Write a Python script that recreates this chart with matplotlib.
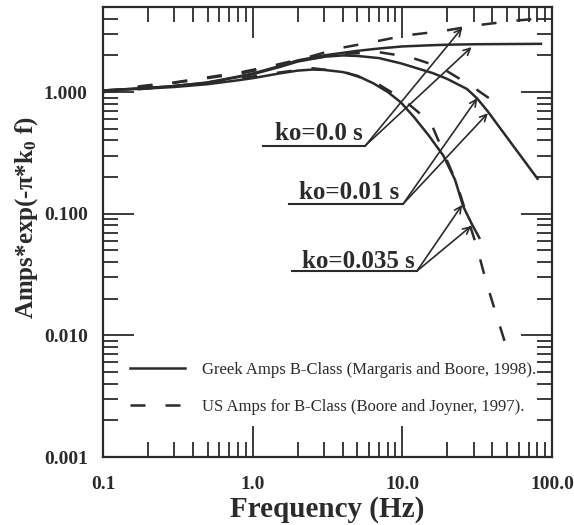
import matplotlib
matplotlib.use('Agg')
import matplotlib.pyplot as plt
from matplotlib.lines import Line2D

INK = '#2b2b2b'
plt.rcParams['font.family'] = ['Liberation Serif', 'DejaVu Serif']
plt.rcParams['mathtext.fontset'] = 'custom'
plt.rcParams['mathtext.rm'] = 'Liberation Serif:bold'
plt.rcParams['mathtext.it'] = 'Liberation Serif:bold'
plt.rcParams['mathtext.bf'] = 'Liberation Serif:bold'

# ---- data ----
# Greek amps B-class (solid)
greek_k00_f = [0.1, 0.2, 0.3, 0.5, 0.8, 1.0, 1.5, 2.0, 3.0, 4.0, 5.0, 7.0, 10, 15, 20, 30, 50, 86]
greek_k00_a = [1.03, 1.08, 1.12, 1.20, 1.34, 1.42, 1.63, 1.82, 2.00, 2.10, 2.18, 2.28, 2.37, 2.42, 2.45, 2.47, 2.48, 2.49]

greek_k01_f = [0.1, 0.2, 0.3, 0.5, 0.8, 1.0, 1.5, 2.0, 3.0, 4.0, 5.0, 7.0, 9.8, 16, 20, 27, 31.5, 37, 81]
greek_k01_a = [1.03, 1.08, 1.12, 1.19, 1.33, 1.40, 1.60, 1.78, 1.95, 2.00, 1.98, 1.90, 1.72, 1.43, 1.28, 1.06, 0.89, 0.70, 0.19]

greek_k035_f = [0.1, 0.2, 0.3, 0.5, 0.8, 1.0, 1.5, 2.0, 2.5, 3.0, 4.0, 5.0, 6.4, 8.0, 9.8, 12, 15, 18.8, 22.5, 25.5, 29, 33]
greek_k035_a = [1.03, 1.07, 1.10, 1.16, 1.25, 1.30, 1.42, 1.50, 1.53, 1.52, 1.46, 1.36, 1.18, 1.00, 0.82, 0.62, 0.44, 0.30, 0.19, 0.115, 0.083, 0.062]

# US amps B-class (dashed)
us_k00_f = [0.1, 0.18, 0.3, 0.5, 0.85, 1.4, 2.3, 3.85, 6.6, 10.5, 18.6, 30.5, 55, 100]
us_k00_a = [1.00, 1.12, 1.20, 1.32, 1.46, 1.66, 1.92, 2.30, 2.60, 2.92, 3.17, 3.52, 3.85, 4.10]

us_k01_f = [0.1, 0.3, 0.85, 1.4, 2.3, 3.85, 6.9, 11.2, 18, 29, 43]
us_k01_a = [1.00, 1.19, 1.43, 1.62, 1.85, 2.05, 2.13, 1.94, 1.60, 1.12, 0.80]

us_k035_f = [0.1, 0.2, 0.3, 0.5, 0.85, 1.4, 2.5, 4.1, 6.6, 10, 15.5, 23, 31.5, 36.5, 42.5, 51]
us_k035_a = [1.00, 1.07, 1.12, 1.20, 1.30, 1.43, 1.57, 1.46, 1.20, 0.88, 0.56, 0.18, 0.053, 0.027, 0.0147, 0.0072]

x_ticks = [0.1, 1.0, 10.0, 100.0]
x_tick_labels = ['0.1', '1.0', '10.0', '100.0']
y_ticks = [0.001, 0.01, 0.1, 1.0]
y_tick_labels = ['0.001', '0.010', '0.100', '1.000']

# annotations: label, text anchor (f, A), underline (f_start, f_end, A), arrow tips [(f, A), ...]
ann_labels = ['ko=0.0 s', 'ko=0.01 s', 'ko=0.035 s']
ann_text_xy = [(5.4, 0.40), (9.6, 0.133), (12.1, 0.036)]
ann_underline = [(1.17, 5.63, 0.36), (1.74, 10.1, 0.12), (1.83, 12.5, 0.0337)]
ann_tips = [[(25.1, 3.36), (29.0, 2.34)],
            [(31.7, 0.89), (37.3, 0.67)],
            [(25.1, 0.118), (28.8, 0.079)]]

legend_labels = ['Greek Amps B-Class (Margaris and Boore, 1998).',
                 'US Amps for B-Class (Boore and Joyner, 1997).']

fig = plt.figure(figsize=(5.74, 5.25), dpi=100)
ax = fig.add_axes([103/574, 68/525, 449/574, 450/525])

lw = 1.8
dash = (0, (6, 8))
for f, a in [(greek_k00_f, greek_k00_a), (greek_k01_f, greek_k01_a), (greek_k035_f, greek_k035_a)]:
    ax.plot(f, a, color=INK, lw=lw, solid_capstyle='butt')
for f, a in [(us_k00_f, us_k00_a), (us_k01_f, us_k01_a), (us_k035_f, us_k035_a)]:
    ax.plot(f, a, color=INK, lw=lw, linestyle=dash, dash_capstyle='butt')

ax.set_xscale('log')
ax.set_yscale('log')
ax.set_xlim(0.1, 100)
ax.set_ylim(0.001, 5)

ax.set_xticks(x_ticks)
ax.set_xticklabels(x_tick_labels)
ax.set_yticks(y_ticks)
ax.set_yticklabels(y_tick_labels)
ax.minorticks_on()
ax.tick_params(which='both', direction='in', top=True, right=True, color=INK)
ax.tick_params(which='major', length=22, width=1.3)
ax.tick_params(which='minor', length=11, width=1.3, labelbottom=False, labelleft=False)
ax.tick_params(axis='x', which='major', pad=14)
ax.tick_params(axis='y', which='major', pad=11)
for lab in ax.get_xticklabels() + ax.get_yticklabels():
    lab.set_fontsize(14)
    lab.set_fontweight('bold')
    lab.set_color(INK)
for sp in ax.spines.values():
    sp.set_linewidth(1.6)
    sp.set_color(INK)

ax.set_xlabel('Frequency (Hz)', fontsize=21, fontweight='bold', color=INK, labelpad=2)
ax.set_ylabel(r'Amps*exp(-$\mathrm{\pi}$*k$_\mathrm{0}$ f)', fontsize=18, fontweight='bold', color=INK)
ax.yaxis.set_label_coords(-0.14, 0.531)

for lab, txy, ul, tips in zip(ann_labels, ann_text_xy, ann_underline, ann_tips):
    ax.text(txy[0], txy[1], lab, fontsize=18, fontweight='bold', color=INK,
            ha='right', va='baseline')
    ax.plot([ul[0], ul[1]], [ul[2], ul[2]], color=INK, lw=1.5)
    for tip in tips:
        ax.annotate('', xy=tip, xytext=(ul[1], ul[2]),
                    arrowprops=dict(arrowstyle='->', lw=1.2, color=INK,
                                    shrinkA=0, shrinkB=0, mutation_scale=12))

handles = [Line2D([], [], color=INK, lw=lw),
           Line2D([], [], color=INK, lw=lw, linestyle=dash)]
leg = ax.legend(handles, legend_labels, loc='center left', bbox_to_anchor=(0.045, 0.153),
                frameon=False, fontsize=12, handlelength=3.3, handletextpad=1.0,
                labelspacing=1.25, borderaxespad=0)
for t in leg.get_texts():
    t.set_color(INK)

fig.savefig('out.png', dpi=100)
